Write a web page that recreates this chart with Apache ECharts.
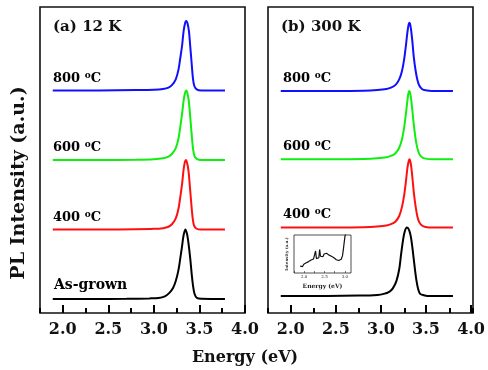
<!DOCTYPE html>
<html><head><meta charset="utf-8">
<script src="https://cdn.jsdelivr.net/npm/echarts@6/dist/echarts.min.js"></script>
<style>html,body{margin:0;padding:0;background:#fff}#c{width:488px;height:370px}</style>
</head><body><div id="c"></div><script>
// ---- data ----
const energyMin = 1.75, energyMax = 4.0;          // full frame range
const energyTickStart = 2.0, energyTickStep = 0.5; // labelled ticks 2.0 ... 4.0
const insetMin = 1.75, insetMax = 3.15, insetTickStep = 0.25;
const sampleNames = ['As-grown', '400', '600', '800'];
const panelTitles = ['(a) 12 K', '(b) 300 K'];

// 12 K, normalized PL intensity [energy eV, intensity]
const pl12K_asGrown = [[1.89,0],[2.3,0],[2.7,0.004],[2.95,0.01],[3.05,0.016],[3.12,0.04],[3.17,0.09],[3.21,0.16],[3.24,0.26],[3.27,0.42],[3.29,0.59],[3.31,0.77],[3.325,0.91],[3.345,1.0],[3.365,0.93],[3.38,0.8],[3.40,0.57],[3.415,0.36],[3.43,0.19],[3.445,0.08],[3.47,0.02],[3.52,0.004],[3.78,0]];
const pl12K_400 = [[1.89,0],[2.4,0],[2.8,0.004],[3.0,0.01],[3.1,0.02],[3.16,0.04],[3.2,0.08],[3.24,0.16],[3.27,0.3],[3.29,0.47],[3.31,0.66],[3.325,0.85],[3.34,0.97],[3.352,1.0],[3.366,0.95],[3.38,0.84],[3.395,0.62],[3.41,0.38],[3.425,0.17],[3.44,0.06],[3.465,0.015],[3.52,0],[3.78,0]];
const pl12K_600 = [[1.89,0],[2.4,0],[2.8,0.005],[3.0,0.012],[3.1,0.025],[3.16,0.05],[3.2,0.09],[3.24,0.17],[3.27,0.31],[3.29,0.48],[3.31,0.67],[3.327,0.86],[3.343,0.97],[3.356,1.0],[3.37,0.95],[3.385,0.83],[3.40,0.6],[3.415,0.36],[3.43,0.16],[3.445,0.06],[3.47,0.015],[3.52,0],[3.78,0]];
const pl12K_800 = [[1.89,0],[2.4,0],[2.8,0.005],[3.0,0.01],[3.1,0.02],[3.16,0.04],[3.2,0.08],[3.24,0.16],[3.27,0.3],[3.29,0.47],[3.31,0.65],[3.327,0.86],[3.345,0.98],[3.357,1.0],[3.37,0.96],[3.385,0.85],[3.40,0.62],[3.415,0.38],[3.43,0.16],[3.445,0.06],[3.47,0.015],[3.52,0],[3.78,0]];

// 300 K
const pl300K_asGrown = [[1.89,0],[2.4,0],[2.75,0.005],[2.95,0.015],[3.02,0.03],[3.08,0.06],[3.12,0.11],[3.16,0.22],[3.19,0.39],[3.21,0.6],[3.23,0.8],[3.25,0.94],[3.275,1.0],[3.30,0.96],[3.32,0.85],[3.34,0.65],[3.36,0.42],[3.38,0.22],[3.40,0.09],[3.42,0.03],[3.46,0.01],[3.5,0],[3.78,0]];
const pl300K_400 = [[1.89,0],[2.5,0],[2.8,0.005],[2.95,0.015],[3.05,0.03],[3.1,0.05],[3.15,0.09],[3.19,0.17],[3.22,0.3],[3.245,0.48],[3.265,0.69],[3.28,0.87],[3.295,0.98],[3.305,1.0],[3.32,0.91],[3.335,0.73],[3.35,0.52],[3.37,0.31],[3.39,0.16],[3.41,0.08],[3.44,0.03],[3.48,0.01],[3.55,0],[3.78,0]];
const pl300K_600 = [[1.89,0],[2.5,0],[2.8,0.005],[2.95,0.015],[3.05,0.03],[3.1,0.05],[3.15,0.09],[3.19,0.17],[3.22,0.29],[3.245,0.47],[3.265,0.68],[3.28,0.86],[3.293,0.98],[3.303,1.0],[3.318,0.91],[3.333,0.73],[3.35,0.51],[3.37,0.3],[3.39,0.16],[3.41,0.08],[3.44,0.03],[3.48,0.01],[3.55,0],[3.78,0]];
const pl300K_800 = [[1.89,0],[2.5,0],[2.8,0.005],[2.95,0.015],[3.05,0.03],[3.1,0.05],[3.15,0.09],[3.19,0.17],[3.22,0.29],[3.245,0.47],[3.265,0.68],[3.28,0.86],[3.295,0.98],[3.305,1.0],[3.32,0.9],[3.335,0.72],[3.35,0.5],[3.37,0.3],[3.39,0.16],[3.41,0.08],[3.44,0.03],[3.48,0.01],[3.55,0],[3.78,0]];

// inset: as-grown 300 K, deep-level region
const insetEnergy = [1.9,1.93,1.96,1.99,2.02,2.05,2.08,2.11,2.14,2.17,2.2,2.23,2.26,2.28,2.3,2.33,2.36,2.38,2.4,2.43,2.46,2.49,2.52,2.55,2.58,2.61,2.64,2.67,2.7,2.73,2.76,2.79,2.82,2.85,2.88,2.91,2.94,2.96,2.98,3.0,3.02];
const insetIntensity = [0.18,0.22,0.17,0.23,0.2,0.27,0.24,0.3,0.27,0.34,0.31,0.37,0.34,0.58,0.38,0.42,0.4,0.62,0.44,0.47,0.43,0.5,0.46,0.52,0.48,0.47,0.45,0.44,0.41,0.4,0.36,0.35,0.31,0.33,0.3,0.36,0.45,0.6,0.78,0.95,1.05];

// ---- chart ----
const colors = ['#000000', '#ff1010', '#10ee10', '#1010ff'];
const font = 'DejaVu Serif';
const lineOffsets = [0, 1, 2, 3];
const panels = [
  {left: 40, series: [pl12K_asGrown, pl12K_400, pl12K_600, pl12K_800]},
  {left: 268, series: [pl300K_asGrown, pl300K_400, pl300K_600, pl300K_800]}
];
const panelTop = 7, panelW = 205, panelH = 306;
const pxPerEv = panelW / (energyMax - energyMin);
const tickGridShift = (energyTickStart - energyMin) * pxPerEv;

const grids = [
  {left: panels[0].left, top: panelTop, width: panelW, height: panelH, show: true, borderColor: '#111', borderWidth: 1.6},
  {left: panels[1].left, top: panelTop, width: panelW, height: panelH, show: true, borderColor: '#111', borderWidth: 1.6},
  {left: 294, top: 235, width: 57, height: 38, show: true, borderColor: '#222', borderWidth: 0.8},
  // grids that carry the labelled major ticks (start exactly at 2.0 eV)
  {left: panels[0].left + tickGridShift, top: panelTop, width: panelW - tickGridShift, height: panelH, show: false},
  {left: panels[1].left + tickGridShift, top: panelTop, width: panelW - tickGridShift, height: panelH, show: false}
];

function minorX(gi) {
  // ticks counted from min 1.75 with step 0.5 -> 2.25, 2.75, 3.25, 3.75
  return {
    type: 'value', gridIndex: gi, min: energyMin, max: energyMax, interval: energyTickStep, position: 'bottom',
    axisLine: {show: false, onZero: false}, splitLine: {show: false}, axisLabel: {show: false},
    axisTick: {show: true, inside: true, length: 5, lineStyle: {color: '#000', width: 2}}, z: 5
  };
}
function majorX(gi) {
  return {
    type: 'value', gridIndex: gi, min: energyTickStart, max: energyMax, interval: energyTickStep, position: 'bottom',
    axisLine: {show: false, onZero: false}, splitLine: {show: false},
    axisTick: {show: true, inside: true, length: 8, lineStyle: {color: '#000', width: 2}}, z: 5,
    axisLabel: {show: true, margin: 9, formatter: v => v.toFixed(1), showMinLabel: true, showMaxLabel: true,
      fontFamily: font, fontWeight: 'bold', fontSize: 16, color: '#111'}
  };
}

const xAxes = [minorX(0), minorX(1), {
  type: 'value', gridIndex: 2, min: insetMin, max: insetMax, interval: insetTickStep, position: 'bottom',
  axisLine: {show: false, onZero: false}, splitLine: {show: false},
  axisTick: {show: true, inside: true, length: 2, lineStyle: {color: '#222', width: 0.6}},
  axisLabel: {show: true, margin: 2, showMaxLabel: false,
    formatter: v => (v >= 2 && Math.abs(v * 2 - Math.round(v * 2)) < 1e-6) ? v.toFixed(1) : '',
    fontFamily: font, fontSize: 4, color: '#222'},
  name: 'Energy (eV)', nameLocation: 'middle', nameGap: 10,
  nameTextStyle: {fontFamily: font, fontWeight: 'bold', fontSize: 6, color: '#222'}
}, majorX(3), majorX(4)];
const yAxes = [
  {type: 'value', gridIndex: 0, min: -0.2, max: 4.2, show: false},
  {type: 'value', gridIndex: 1, min: -0.25, max: 4.23, show: false},
  {type: 'value', gridIndex: 2, min: 0, max: 1, axisLine: {show: false, onZero: false}, axisTick: {show: false},
   axisLabel: {show: false}, splitLine: {show: false},
   name: 'Intensity (a.u.)', nameLocation: 'middle', nameGap: 5, nameRotate: 90,
   nameTextStyle: {fontFamily: font, fontWeight: 'bold', fontSize: 4, color: '#222'}},
  {type: 'value', gridIndex: 3, min: 0, max: 1, show: false},
  {type: 'value', gridIndex: 4, min: 0, max: 1, show: false}
];

const series = [];
panels.forEach((p, pi) => {
  p.series.forEach((data, si) => {
    series.push({
      type: 'line', xAxisIndex: pi, yAxisIndex: pi, showSymbol: false, smooth: 0.3,
      data: data.map(d => [d[0], d[1] + lineOffsets[si]]),
      lineStyle: {color: colors[si], width: 2}, silent: true, animation: false
    });
  });
});
series.push({
  type: 'line', xAxisIndex: 2, yAxisIndex: 2, showSymbol: false,
  data: insetEnergy.map((e, i) => [e, insetIntensity[i]]),
  lineStyle: {color: '#111', width: 1.2}, silent: true, animation: false, clip: true
});

const rich = {
  n: {fontFamily: font, fontWeight: 'bold', fontSize: 13, color: '#111', lineHeight: 15},
  a: {fontFamily: font, fontWeight: 'bold', fontSize: 14, color: '#111', lineHeight: 15},
  s: {fontFamily: font, fontWeight: 'bold', fontSize: 9, color: '#111', verticalAlign: 'top', lineHeight: 9}
};
function sampleText(name) {
  return name === 'As-grown' ? '{a|As-grown}' : '{n|' + name + ' }{s|o}{n|C}';
}
const labelPos = [
  [[54, 286], [53, 218], [53, 148], [53, 79]],
  [[283, null], [283, 215], [283, 147], [283, 79]]
];
const titlePos = [[53, 29], [281, 29]];
const graphics = [];
panels.forEach((p, pi) => {
  graphics.push({type: 'text', left: titlePos[pi][0], top: titlePos[pi][1] - 9,
    style: {text: panelTitles[pi], font: 'bold 15px "' + font + '"', fill: '#111'}});
  sampleNames.forEach((nm, si) => {
    const pos = labelPos[pi][si];
    if (!pos[1]) return;
    graphics.push({type: 'text', left: pos[0], top: pos[1] - 8,
      style: {text: sampleText(nm), rich: rich}});
  });
});
graphics.push({type: 'text', x: 19, y: 183, rotation: Math.PI / 2,
  style: {text: 'PL Intensity (a.u.)', font: 'bold 19px "' + font + '"', fill: '#111', align: 'center', verticalAlign: 'middle'}});
graphics.push({type: 'text', x: 245, y: 358,
  style: {text: 'Energy (eV)', font: 'bold 16px "' + font + '"', fill: '#111', align: 'center', verticalAlign: 'middle'}});

const chart = echarts.init(document.getElementById('c'), null, {renderer: 'canvas'});
chart.setOption({
  backgroundColor: '#ffffff',
  animation: false,
  grid: grids, xAxis: xAxes, yAxis: yAxes, series: series, graphic: graphics
});
</script></body></html>
